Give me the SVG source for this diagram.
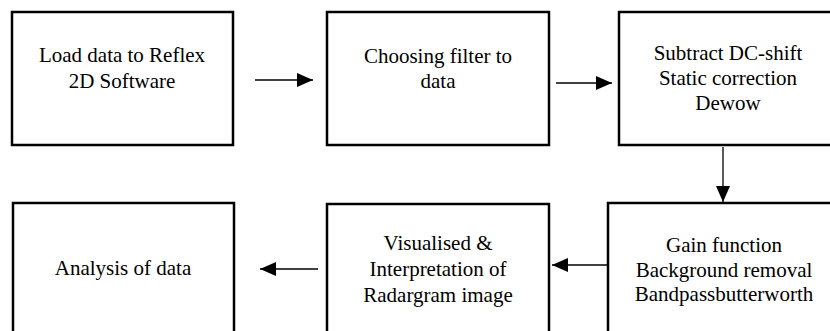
<svg xmlns="http://www.w3.org/2000/svg" width="830" height="331" viewBox="0 0 830 331">
<style>
.box{fill:#fff;stroke:#000;stroke-width:2.5}
.lbl{font-family:'Liberation Serif','Times New Roman',Times,'DejaVu Serif',serif;font-size:21px;fill:#000;text-anchor:middle}
.conn{stroke:#000;stroke-width:1.3;fill:none;marker-end:url(#ah)}
</style>
<defs>
<marker id="ah" markerUnits="userSpaceOnUse" markerWidth="16" markerHeight="14" refX="16" refY="7" orient="auto">
<path d="M0,0 L16,7 L0,14 z" fill="#000"/>
</marker>
</defs>
<rect width="830" height="331" fill="#fff"/>
<g id="n1">
<rect class="box" x="12" y="12" width="221" height="133"/>
<text class="lbl" font-family="Liberation Serif, serif" x="122" y="62">Load data to Reflex</text>
<text class="lbl" font-family="Liberation Serif, serif" x="122" y="88">2D Software</text>
</g>
<g id="n2">
<rect class="box" x="327" y="12" width="222" height="133"/>
<text class="lbl" x="438" y="63">Choosing filter to</text>
<text class="lbl" x="438" y="88">data</text>
</g>
<g id="n3">
<rect class="box" x="619" y="12" width="220" height="133"/>
<text class="lbl" x="728" y="60">Subtract DC-shift</text>
<text class="lbl" x="728" y="85">Static correction</text>
<text class="lbl" x="728" y="110">Dewow</text>
</g>
<g id="n4">
<rect class="box" x="608" y="203" width="232" height="140"/>
<text class="lbl" x="724" y="252">Gain function</text>
<text class="lbl" x="724" y="277">Background removal</text>
<text class="lbl" x="724" y="301">Bandpassbutterworth</text>
</g>
<g id="n5">
<rect class="box" x="327" y="204" width="222" height="140"/>
<text class="lbl" x="438" y="250">Visualised &amp;</text>
<text class="lbl" x="438" y="276">Interpretation of</text>
<text class="lbl" x="438" y="302">Radargram image</text>
</g>
<g id="n6">
<rect class="box" x="13" y="203" width="221" height="140"/>
<text class="lbl" x="123" y="275">Analysis of data</text>
</g>
<g id="connectors">
<line class="conn" x1="255" y1="80" x2="313" y2="80"/>
<line class="conn" x1="556" y1="83" x2="612" y2="83"/>
<line class="conn" x1="723" y1="147" x2="723" y2="202"/>
<line class="conn" x1="607" y1="265" x2="552" y2="265"/>
<line class="conn" x1="318" y1="269" x2="260" y2="269"/>
</g>
</svg>
